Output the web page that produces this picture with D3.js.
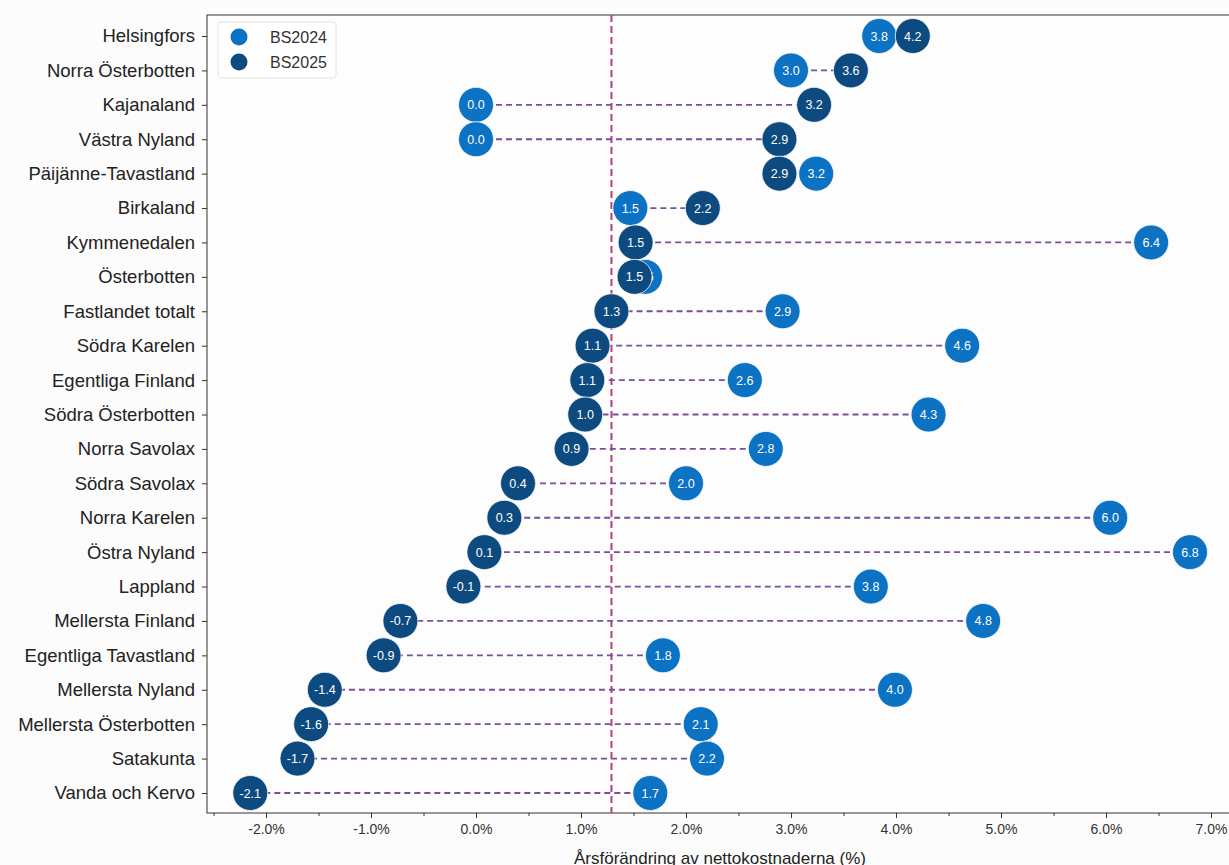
<!DOCTYPE html>
<html>
<head>
<meta charset="utf-8">
<script src="https://cdn.jsdelivr.net/npm/d3@7"></script>
<style>
  body { margin: 0; background: #fcfcfc; }
  svg { font-family: "Liberation Sans", Arial, sans-serif; }
</style>
</head>
<body>
<div id="chart"></div>
<script>
// regions, top to bottom
const regions = ['Helsingfors', 'Norra Österbotten', 'Kajanaland', 'Västra Nyland', 'Päijänne-Tavastland',
  'Birkaland', 'Kymmenedalen', 'Österbotten', 'Fastlandet totalt', 'Södra Karelen', 'Egentliga Finland',
  'Södra Österbotten', 'Norra Savolax', 'Södra Savolax', 'Norra Karelen', 'Östra Nyland', 'Lappland',
  'Mellersta Finland', 'Egentliga Tavastland', 'Mellersta Nyland', 'Mellersta Österbotten', 'Satakunta',
  'Vanda och Kervo']
const bs2024 = [3.84, 3.0, 0.0, 0.0, 3.24, 1.47, 6.43, 1.61, 2.92, 4.63, 2.56, 4.31, 2.76, 2.0, 6.04, 6.8,
  3.76, 4.83, 1.78, 3.99, 2.14, 2.2, 1.66]
const bs2025 = [4.16, 3.57, 3.22, 2.89, 2.89, 2.16, 1.52, 1.51, 1.29, 1.11, 1.06, 1.04, 0.91, 0.4, 0.27, 0.08,
  -0.12, -0.72, -0.88, -1.44, -1.57, -1.7, -2.15]
const xTicks = [-2, -1, 0, 1, 2, 3, 4, 5, 6, 7]
const refValue = 1.29  // Fastlandet totalt BS2025

const W = 1229, H = 865
const margin = {top: 15, right: -14, bottom: 52, left: 207}
const width = W - margin.left - margin.right
const height = H - margin.top - margin.bottom

const c24 = '#0b72c4', c25 = '#0c4a80'
const fmt = v => d3.format('.1f')(v).replace('−', '-')

const svg = d3.select('#chart').append('svg')
  .attr('width', W).attr('height', H)
const g = svg.append('g').attr('transform', 'translate(' + margin.left + ',' + margin.top + ')')

// about 105 px per percent point
const x = d3.scaleLinear().domain([-2.562, -2.562 + width / 105]).range([0, width])
const y = d3.scalePoint().domain(regions).range([21, height - 20])

// frame
g.append('rect').attr('width', width).attr('height', height)
  .attr('fill', '#fdfdfd').attr('stroke', '#333').attr('stroke-width', 1)

// minor ticks
g.append('g').attr('transform', 'translate(0,' + height + ')')
  .call(d3.axisBottom(x).tickValues(d3.range(-2.5, 7.5, 0.5)).tickSize(3).tickFormat(''))
  .call(a => a.select('.domain').remove())
  .selectAll('line').attr('stroke', '#333')

const xAxis = g.append('g').attr('transform', 'translate(0,' + height + ')')
  .call(d3.axisBottom(x).tickValues(xTicks).tickSize(5).tickPadding(6)
    .tickFormat(d => fmt(d) + '%'))
xAxis.select('.domain').remove()
xAxis.selectAll('line').attr('stroke', '#333')
xAxis.selectAll('text').attr('font-size', 14).attr('fill', '#333')
  .attr('font-family', '"Liberation Sans", Arial, sans-serif')

const yAxis = g.append('g')
  .call(d3.axisLeft(y).tickSize(5).tickPadding(7))
yAxis.select('.domain').remove()
yAxis.selectAll('line').attr('stroke', '#333')
yAxis.selectAll('text').attr('font-size', 18.5).attr('fill', '#222')
  .attr('font-family', '"Liberation Sans", Arial, sans-serif')

svg.append('text')
  .attr('x', 720).attr('y', 864)
  .attr('text-anchor', 'middle').attr('font-size', 17).attr('fill', '#222')
  .text('Årsförändring av nettokostnaderna (%)')

// reference line
g.append('line')
  .attr('x1', x(refValue)).attr('x2', x(refValue))
  .attr('y1', 0).attr('y2', height)
  .attr('stroke', '#b4417f').attr('stroke-width', 2).attr('stroke-dasharray', '7,4')

// connectors
const rows = regions.map((r, i) => ({region: r, a: bs2024[i], b: bs2025[i]}))
g.selectAll('.conn').data(rows).enter().append('line')
  .attr('class', 'conn')
  .attr('x1', d => x(d.a)).attr('x2', d => x(d.b))
  .attr('y1', d => y(d.region)).attr('y2', d => y(d.region))
  .attr('stroke', '#7a4f9c').attr('stroke-width', 1.8).attr('stroke-dasharray', '6,4')

function dots(key, color) {
  const grp = g.append('g')
  const d = grp.selectAll('g').data(rows).enter().append('g')
    .attr('transform', r => 'translate(' + x(r[key]) + ',' + y(r.region) + ')')
  d.append('circle').attr('r', 17.5).attr('fill', color)
    .attr('stroke', '#fdfdfd').attr('stroke-width', 0.8)
  d.append('text').attr('text-anchor', 'middle').attr('dy', '0.36em')
    .attr('font-size', 12.5).attr('fill', '#fff')
    .text(r => fmt(r[key]))
}
dots('a', c24)
dots('b', c25)

// legend
const leg = g.append('g').attr('transform', 'translate(11,7)')
leg.append('rect').attr('width', 118).attr('height', 56).attr('rx', 3)
  .attr('fill', '#fff').attr('stroke', '#e4e4e4')
const items = [['BS2024', c24], ['BS2025', c25]]
items.forEach((it, i) => {
  leg.append('circle').attr('cx', 21).attr('cy', 15 + i * 25).attr('r', 8.5).attr('fill', it[1])
  leg.append('text').attr('x', 52).attr('y', 15 + i * 25).attr('dy', '0.35em')
    .attr('font-size', 16).attr('fill', '#333').text(it[0])
})
</script>
</body>
</html>
